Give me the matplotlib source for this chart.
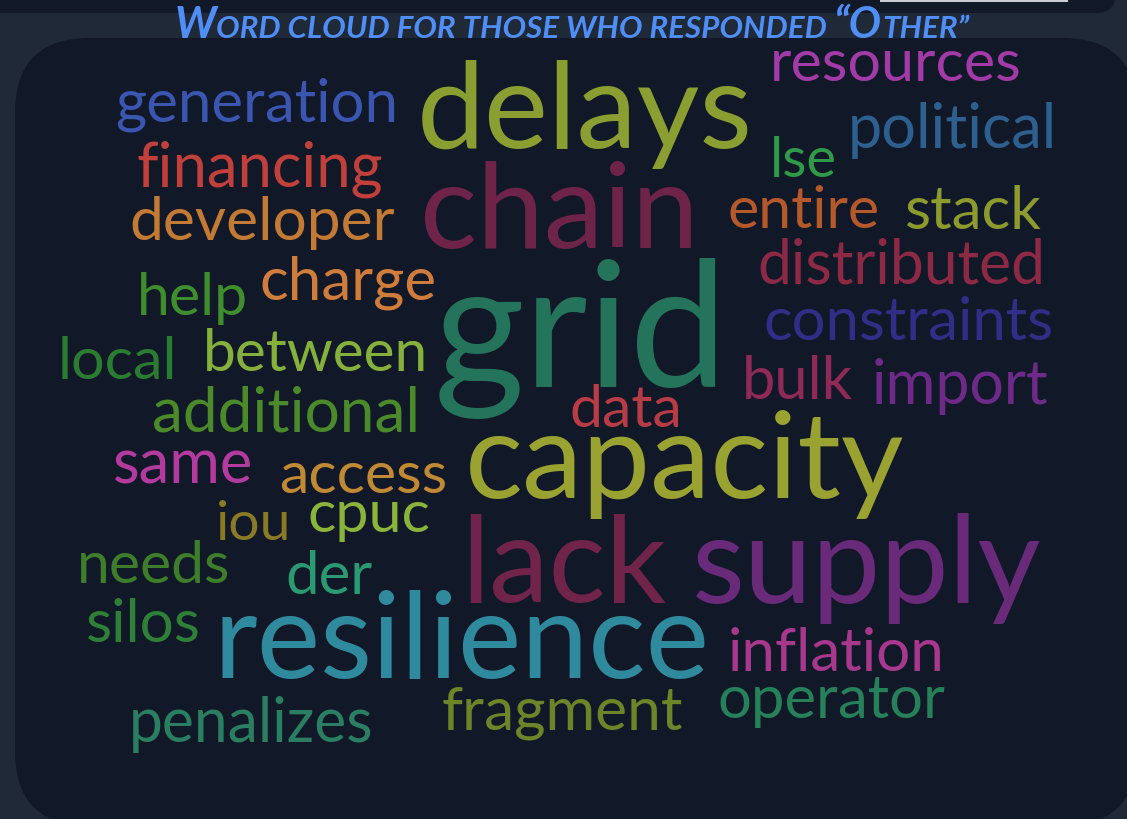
import matplotlib
matplotlib.use("Agg")
import matplotlib.pyplot as plt
from matplotlib.patches import FancyBboxPatch, Rectangle

# Word cloud data
words = ["resources", "generation", "delays", "political", "lse", "financing",
         "chain", "entire", "stack", "developer", "distributed", "charge",
         "help", "grid", "constraints", "local", "between", "bulk", "import",
         "data", "additional", "capacity", "same", "access", "iou", "cpuc",
         "lack", "supply", "needs", "der", "silos", "resilience", "inflation",
         "operator", "fragment", "penalizes"]
colors = ["#a23aa8", "#3a56b0", "#8a9e32", "#2d5f8f", "#2f9a48", "#c2403b",
          "#6e2448", "#b5582a", "#8c9a2e", "#c27a35", "#8c2a45", "#d07d3c",
          "#3f8e2e", "#23745a", "#312e88", "#2a7d30", "#86b03c", "#8e2a55",
          "#6e2a88", "#b83c45", "#4a8a2a", "#9aa232", "#b33ba0", "#c08a34",
          "#8a7a25", "#8ab43a", "#70244a", "#6a2a7a", "#3e7e2a", "#2a9a72",
          "#2e8038", "#2f8a9e", "#a8388e", "#26805a", "#6e8428", "#2a7f62"]

# Layout of each word in pixels: left edge, baseline, right edge
left_x = [770, 115, 417, 848, 770, 137, 420, 728, 905, 129, 757, 260,
          137, 434, 764, 58, 203, 742, 872, 569, 152, 465, 113, 279,
          216, 307, 461, 692, 77, 285, 86, 213, 728, 717, 442, 129]
base_y = [81, 121, 148, 148, 177, 186, 248, 228, 229, 240, 283, 300,
          315, 387, 340, 379, 371, 399, 404, 427, 432, 498, 484, 493,
          540, 532, 602, 603, 583, 594, 642, 678, 671, 718, 730, 742]
right_x = [1022, 398, 753, 1057, 837, 383, 698, 880, 1042, 394, 1045, 437,
           248, 728, 1054, 178, 428, 853, 1049, 682, 420, 905, 253, 447,
           291, 430, 667, 1041, 230, 372, 201, 708, 945, 945, 683, 373]

title_parts = ["W", "ORD CLOUD FOR THOSE WHO RESPONDED ", "\u201cO", "THER\u201d"]
title_big = [True, False, True, False]

W, H = 1127, 819
fig = plt.figure(figsize=(W / 100, H / 100), dpi=100)
fig.patch.set_facecolor("#1f2937")
ax = fig.add_axes([0, 0, 1, 1])
ax.set_xlim(0, W)
ax.set_ylim(H, 0)
ax.axis("off")

# top strip and card panel
ax.add_patch(FancyBboxPatch((-60, -40), 1175, 53, boxstyle="round,pad=0,rounding_size=18",
                            fc="#111827", ec="none"))
ax.add_patch(Rectangle((880, -5), 188, 6.5, fc="#c9ccd1", ec="none"))
ax.add_patch(FancyBboxPatch((15, 38), 1122, 788, boxstyle="round,pad=0,rounding_size=75",
                            fc="#111827", ec="none"))

renderer = fig.canvas.get_renderer()

# words, each scaled to its width in the cloud
for w, c, x0, y0, x1 in zip(words, colors, left_x, base_y, right_x):
    t = ax.text(x0, y0, w, fontsize=40, family="Lato", color=c,
                ha="left", va="baseline")
    bb = t.get_window_extent(renderer)
    t.set_fontsize(40 * (x1 - x0) / bb.width)

# small caps title
big, small = 26, 19
pieces = []
for s, b in zip(title_parts, title_big):
    t = ax.text(0, 38, s, fontsize=big if b else small, family="Lato",
                style="italic", weight="bold", color="#4f8ef7",
                ha="left", va="baseline")
    pieces.append((t, b))
widths = [t.get_window_extent(renderer).width for t, b in pieces]
scale = 795 / sum(widths)
x = 572 - 795 / 2
for (t, b), wd in zip(pieces, widths):
    t.set_fontsize((big if b else small) * scale)
    t.set_x(x)
    x += wd * scale

fig.savefig("out.png", dpi=100, facecolor=fig.get_facecolor())
